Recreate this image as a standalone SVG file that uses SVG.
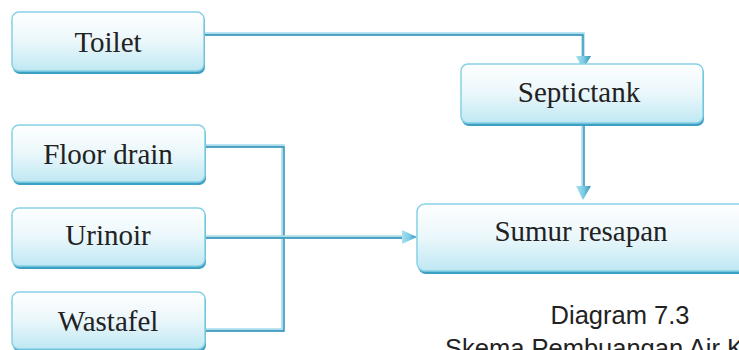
<svg xmlns="http://www.w3.org/2000/svg" width="739" height="350" viewBox="0 0 739 350">
  <defs>
    <linearGradient id="boxfill" x1="0" y1="0" x2="0" y2="1">
      <stop offset="0" stop-color="#ffffff"/>
      <stop offset="0.5" stop-color="#eaf7fb"/>
      <stop offset="1" stop-color="#bfe8f3"/>
    </linearGradient>
    <linearGradient id="arrowfill" x1="0" y1="0" x2="1" y2="0">
      <stop offset="0" stop-color="#a9dff0"/>
      <stop offset="0.5" stop-color="#7ccbe4"/>
      <stop offset="1" stop-color="#2f93b8"/>
    </linearGradient>
  </defs>
  <style>
    .box { fill: url(#boxfill); stroke: #86d1e5; stroke-width: 1.5; }
    .shadow { fill: #3d9fc3; }
    .lbl { font-family: "Liberation Serif", "Times New Roman", serif; font-size: 29px; fill: #222; text-anchor: middle; }
    .cap { font-family: "Liberation Sans", Arial, sans-serif; font-size: 25.5px; fill: #222; }
    .wire { fill: none; stroke: #a8dcec; stroke-width: 3.5; }
    .core { fill: none; stroke: #2f8fb5; stroke-width: 1.3; }
  </style>

  <g id="connectors">
    <path class="wire" d="M205,34 H583 V56"/>
    <path class="core" d="M205,35 H583 V56"/>
    <path class="wire" d="M583,125 V186"/>
    <path class="core" d="M584,125 V186"/>
    <path class="wire" d="M205,146 H283 V330 H205"/>
    <path class="core" d="M205,147 H284 V331 H205"/>
    <path class="wire" d="M205,237 H402"/>
    <path class="core" d="M205,238 H402"/>
    <path d="M576,56 L591,56 L583,70 Z" fill="url(#arrowfill)"/>
    <path d="M576,186 L591,186 L583,200 Z" fill="url(#arrowfill)"/>
    <path d="M402,230 L417,237 L402,244 Z" fill="url(#arrowfill)"/>
  </g>

  <g id="toilet">
    <rect class="shadow" x="13" y="14" width="192" height="60" rx="7"/>
    <rect class="box" x="12" y="12" width="192" height="59" rx="7"/>
    <text class="lbl" x="108" y="52">Toilet</text>
  </g>

  <g id="septictank">
    <rect class="shadow" x="462" y="66" width="242" height="60" rx="7"/>
    <rect class="box" x="461" y="64" width="242" height="59" rx="7"/>
    <text class="lbl" x="579" y="102">Septictank</text>
  </g>

  <g id="floor-drain">
    <rect class="shadow" x="13" y="127" width="193" height="58" rx="7"/>
    <rect class="box" x="12" y="125" width="193" height="57" rx="7"/>
    <text class="lbl" x="108" y="164">Floor drain</text>
  </g>

  <g id="urinoir">
    <rect class="shadow" x="13" y="210" width="193" height="59" rx="7"/>
    <rect class="box" x="12" y="208" width="193" height="58" rx="7"/>
    <text class="lbl" x="108" y="245">Urinoir</text>
  </g>

  <g id="sumur-resapan">
    <rect class="shadow" x="418" y="206" width="340" height="68" rx="8"/>
    <rect class="box" x="417" y="204" width="340" height="67" rx="8"/>
    <text class="lbl" x="581" y="241">Sumur resapan</text>
  </g>

  <g id="wastafel">
    <rect class="shadow" x="13" y="294" width="193" height="58" rx="7"/>
    <rect class="box" x="12" y="292" width="193" height="57" rx="7"/>
    <text class="lbl" x="108" y="331">Wastafel</text>
  </g>

  <g id="caption">
    <text class="cap" x="620" y="324" text-anchor="middle">Diagram 7.3</text>
    <text class="cap" x="445" y="357">Skema Pembuangan Air K</text>
  </g>
</svg>
